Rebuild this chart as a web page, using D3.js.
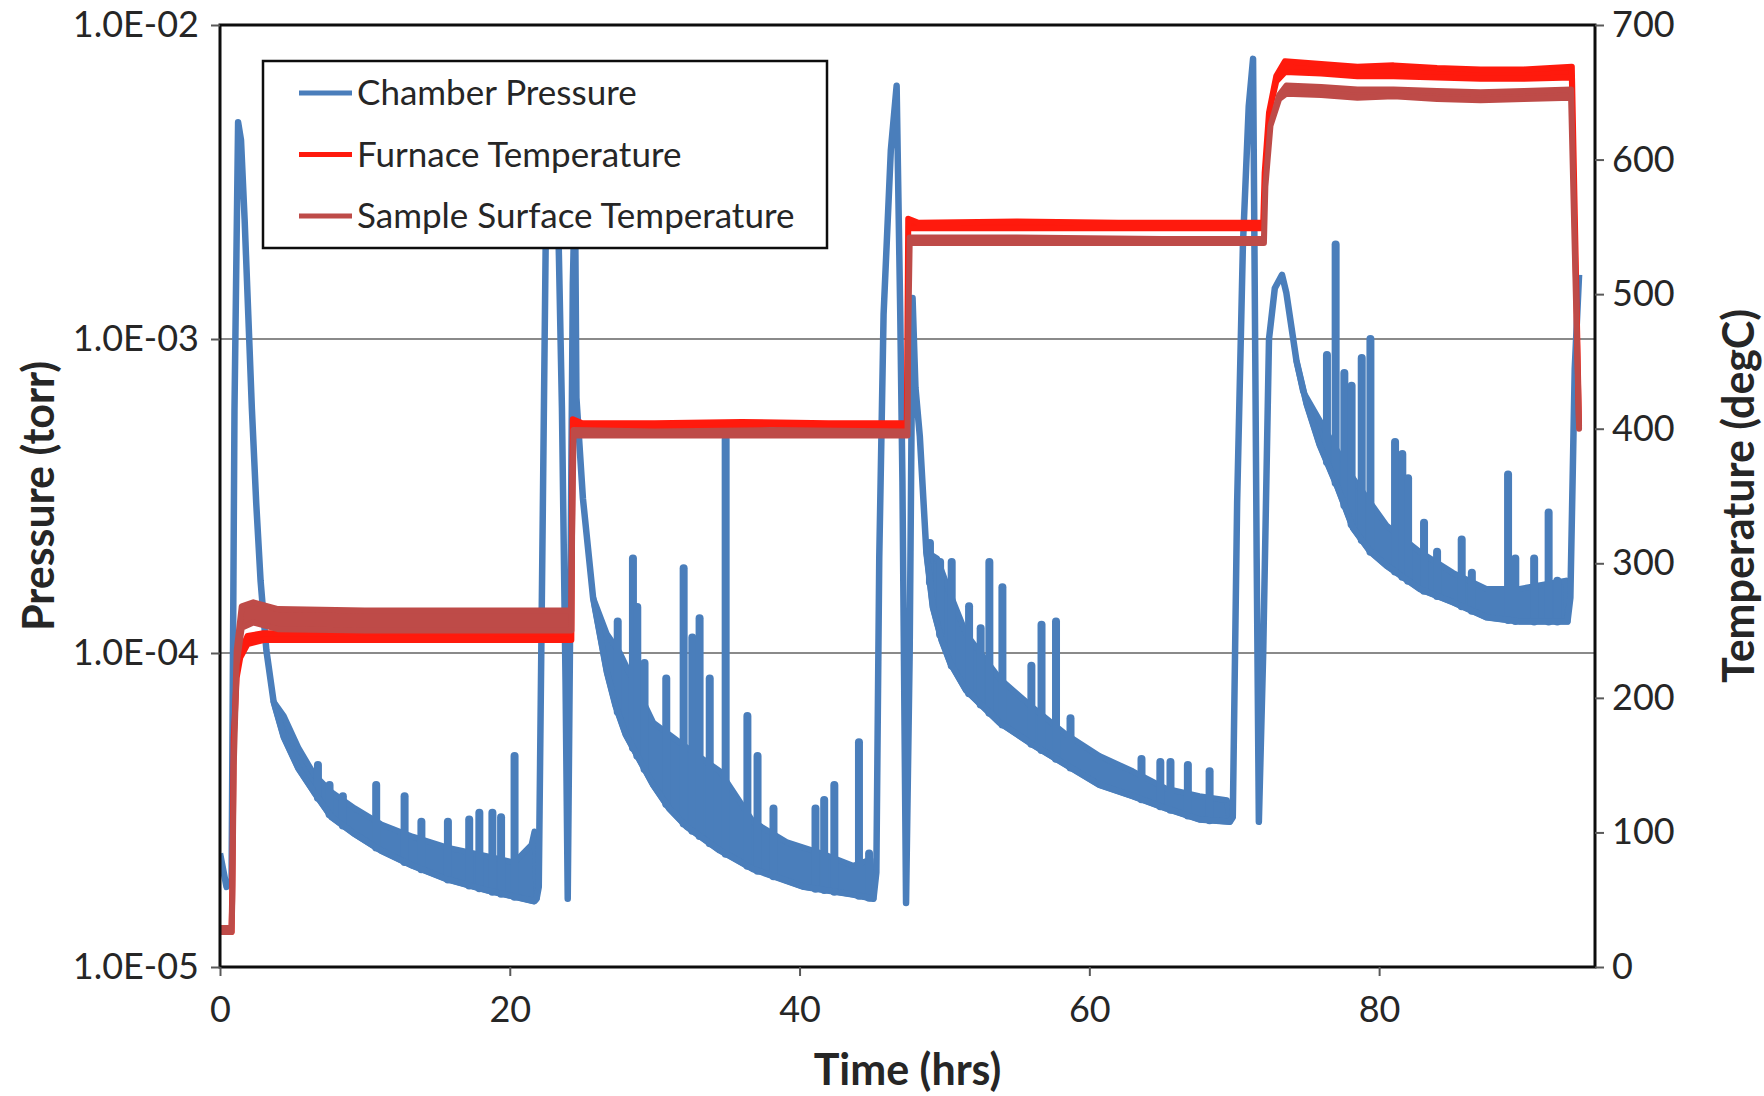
<!DOCTYPE html>
<html>
<head>
    <meta charset="utf-8">
    <title>Chamber Pressure and Temperature</title>
    <script src="https://d3js.org/d3.v7.min.js"></script>
    <style>
        body { margin: 0; background: #fff; }
        svg text { font-family: Lato, "Open Sans", sans-serif; fill: #262626; }
        .axis path { display: none; }
        .axis line { stroke: #595959; stroke-width: 2; }
    </style>
</head>
<body>
    <div id="chart"></div>

    <script>
        // chamber pressure, lower edge of the trace plus the big pump-down excursions [hrs, torr]
        var pressure = [
            [0.0, 2.3e-5], [0.45, 1.8e-5], [0.8, 1.9e-5], [1.0, 6e-4], [1.25, 4.9e-3], [1.45, 4.3e-3], [1.7, 2.4e-3],
            [1.95, 1.2e-3], [2.2, 6e-4], [2.5, 3e-4], [2.8, 1.7e-4], [3.2, 1.02e-4], [3.7, 7.0e-5], [4.4, 5.4e-5],
            [5.4, 4.3e-5], [6.5, 3.6e-5], [7.7, 3.0e-5], [9.3, 2.65e-5], [11.1, 2.35e-5], [13.3, 2.1e-5], [15.7, 1.9e-5],
            [18.5, 1.75e-5], [21.7, 1.62e-5], [21.85, 1.65e-5],
            [22.0, 1.8e-5], [22.5, 2.5e-3], [22.9, 4.0e-3], [23.3, 3.0e-3], [23.6, 6e-4], [23.85, 8e-5], [24.0, 1.65e-5],
            [24.15, 1e-4], [24.35, 1.5e-3], [24.5, 3.0e-3], [24.6, 6.5e-4], [25.05, 3.1e-4], [25.75, 1.5e-4], [26.7, 8.7e-5],
            [27.3, 6.8e-5], [28.0, 5.5e-5], [29.9, 3.8e-5], [31.0, 3.2e-5], [32.2, 2.8e-5], [34.5, 2.35e-5], [36.8, 2.05e-5],
            [40.3, 1.8e-5], [43.7, 1.7e-5],
            [45.1, 1.65e-5], [45.3, 2.0e-5], [45.5, 2.0e-4], [45.8, 1.2e-3], [46.3, 4.0e-3], [46.7, 6.4e-3], [46.95, 1.2e-3],
            [47.1, 3.5e-4], [47.35, 1.6e-5], [47.6, 1.0e-4], [47.8, 1.35e-3], [48.0, 7e-4], [48.3, 4.9e-4], [48.75, 2.1e-4],
            [49.2, 1.4e-4], [49.8, 1.1e-4], [50.4, 9.3e-5], [51.5, 7.6e-5], [53.8, 6.0e-5], [56.1, 5.1e-5], [58.4, 4.4e-5],
            [60.7, 3.8e-5], [63.0, 3.5e-5], [65.3, 3.2e-5], [67.6, 2.95e-5], [69.7, 2.9e-5],
            [69.9, 3.0e-5], [70.2, 3e-4], [70.6, 2e-3], [71.0, 5.5e-3], [71.3, 7.8e-3], [71.45, 9e-4], [71.55, 2e-4],
            [71.7, 2.9e-5], [72.0, 1e-4], [72.4, 1e-3], [72.8, 1.45e-3], [73.3, 1.6e-3], [73.6, 1.4e-3], [74.3, 8.5e-4],
            [75.0, 6.2e-4], [75.9, 4.6e-4], [77.1, 3.4e-4], [78.2, 2.5e-4], [79.4, 2.1e-4], [80.5, 1.9e-4], [82.8, 1.6e-4],
            [85.1, 1.45e-4], [87.4, 1.3e-4], [89.7, 1.26e-4], [93.0, 1.26e-4], [93.2, 1.5e-4], [93.5, 8e-4], [93.8, 1.6e-3]
        ];

        // upper edge of the noisy band in each hold [hrs, torr]
        var noiseTop1 = [[3.7, 7.0e-5], [4.4, 6.3e-5], [5.4, 5.0e-5], [6.5, 4.1e-5], [7.7, 3.6e-5], [9.3, 3.2e-5],
            [11.1, 2.85e-5], [13.3, 2.6e-5], [15.7, 2.4e-5], [18.5, 2.25e-5], [20.3, 2.15e-5], [21.5, 2.45e-5],
            [21.7, 2.7e-5], [21.85, 1.65e-5]];
        var noiseTop2 = [[25.75, 1.5e-4], [26.7, 1.15e-4], [27.6, 1.0e-4], [29.9, 6.0e-5], [32.2, 5.0e-5], [34.5, 4.2e-5],
            [36.8, 2.9e-5], [39.1, 2.5e-5], [41.5, 2.3e-5], [43.7, 2.1e-5], [44.9, 2.2e-5], [45.1, 1.65e-5]];
        var noiseTop3 = [[48.75, 2.1e-4], [49.5, 2.0e-4], [50.4, 1.54e-4], [51.5, 1.15e-4], [53.8, 8.3e-5], [56.1, 6.7e-5],
            [58.4, 5.5e-5], [60.7, 4.7e-5], [63.0, 4.2e-5], [65.3, 3.7e-5], [67.6, 3.5e-5], [69.5, 3.4e-5], [69.7, 2.9e-5]];
        var noiseTop4 = [[74.3, 8.5e-4], [74.75, 6.8e-4], [75.9, 5.5e-4], [78.2, 3.6e-4], [80.5, 2.55e-4], [82.8, 2.1e-4],
            [85.1, 1.8e-4], [87.4, 1.6e-4], [89.7, 1.6e-4], [92.0, 1.67e-4], [92.9, 1.7e-4], [93.0, 1.26e-4]];

        // pressure bursts sticking out of the band [hrs, peak torr]
        var pressureSpikes = [
            [6.76, 4.4e-5], [7.56, 3.8e-5], [8.48, 3.5e-5], [10.78, 3.8e-5], [12.74, 3.5e-5], [13.9, 2.9e-5], [15.73, 2.9e-5],
            [17.2, 2.95e-5], [17.9, 3.1e-5], [18.8, 3.1e-5], [19.4, 3.0e-5], [20.33, 4.7e-5],
            [27.45, 1.26e-4], [28.5, 2.0e-4], [28.8, 1.4e-4], [29.3, 9.3e-5], [30.8, 8.3e-5], [32.0, 1.86e-4], [32.6, 1.12e-4],
            [33.1, 1.29e-4], [33.8, 8.3e-5], [34.9, 4.8e-4], [36.4, 6.3e-5], [37.1, 4.7e-5], [38.2, 3.2e-5], [41.1, 3.2e-5],
            [41.7, 3.4e-5], [42.4, 3.8e-5], [44.1, 5.2e-5], [44.8, 2.3e-5],
            [49.0, 2.24e-4], [49.7, 1.95e-4], [50.5, 1.95e-4], [51.7, 1.41e-4], [52.5, 1.2e-4], [53.1, 1.95e-4], [54.0, 1.62e-4],
            [56.0, 9.1e-5], [56.7, 1.23e-4], [57.7, 1.26e-4], [58.7, 6.2e-5], [63.6, 4.6e-5], [64.9, 4.5e-5], [65.6, 4.5e-5],
            [66.8, 4.4e-5], [68.3, 4.2e-5],
            [76.4, 8.9e-4], [77.0, 2.0e-3], [77.6, 7.8e-4], [78.1, 7.1e-4], [78.8, 8.7e-4], [79.4, 1.0e-3], [81.1, 4.7e-4],
            [81.6, 4.3e-4], [82.0, 3.6e-4], [83.1, 2.6e-4], [84.0, 2.1e-4], [85.7, 2.3e-4], [86.4, 1.8e-4], [88.9, 3.7e-4],
            [89.4, 2.0e-4], [90.7, 2.0e-4], [91.7, 2.8e-4], [92.3, 1.7e-4]
        ];

        // temperatures [hrs, low degC, high degC] (the traces are noisy bands)
        var furnaceTemp = [
            [0.0, 26, 29], [0.8, 26, 29], [0.85, 60, 60], [0.95, 170, 170], [1.15, 215, 215], [1.4, 230, 234], [1.9, 240, 246],
            [3, 243, 248], [8, 243, 248], [14, 243, 249], [20, 243, 248], [24.25, 243, 248],
            [24.3, 330, 330], [24.35, 400, 407], [25, 400, 404], [30, 400, 404], [36, 400, 405], [42, 400, 404], [47.4, 400, 404],
            [47.45, 480, 480], [47.5, 549, 556], [48.2, 549, 553], [55, 549, 554], [62, 549, 553], [68, 549, 553], [72.0, 549, 553],
            [72.1, 590, 590], [72.4, 635, 635], [72.9, 658, 662], [73.5, 665, 673], [76, 664, 671], [78.5, 662, 669], [81, 662, 670],
            [84, 661, 668], [87, 660, 667], [90, 660, 667], [93.3, 661, 669], [93.8, 402, 402]
        ];
        var sampleTemp = [
            [0.0, 26, 29], [0.8, 26, 29], [0.85, 50, 50], [0.95, 150, 150], [1.15, 225, 235], [1.5, 252, 268], [2.3, 256, 271],
            [4, 251, 266], [10, 250, 265], [16, 250, 265], [24.25, 250, 265],
            [24.3, 320, 320], [24.4, 395, 399], [30, 395, 398], [38, 395, 399], [47.45, 395, 398],
            [47.5, 470, 470], [47.6, 538, 542], [55, 538, 542], [65, 538, 541], [72.05, 538, 541],
            [72.15, 580, 580], [72.5, 625, 625], [73.1, 645, 648], [73.6, 649, 655], [76, 648, 654], [78.5, 646, 652], [81, 647, 652],
            [84, 645, 651], [87, 644, 650], [90, 645, 651], [93.25, 646, 652], [93.8, 400, 400]
        ];

        var timeTicks = [0, 20, 40, 60, 80];
        var pressureTicks = [1e-5, 1e-4, 1e-3, 1e-2];
        var pressureTickLabels = ["1.0E-05", "1.0E-04", "1.0E-03", "1.0E-02"];
        var tempTicks = [0, 100, 200, 300, 400, 500, 600, 700];
        var seriesNames = ["Chamber Pressure", "Furnace Temperature", "Sample Surface Temperature"];
        var seriesColors = ["#4a7ebb", "#ff1a0d", "#be4b48"];

        var width = 1764, height = 1096;
        var plot = {left: 220, right: 1595, top: 25, bottom: 967};

        var x = d3.scaleLinear().domain([0, 94.9]).range([plot.left, plot.right]);
        var yP = d3.scaleLog().domain([1e-5, 1e-2]).range([plot.bottom, plot.top]);
        var yT = d3.scaleLinear().domain([0, 700]).range([plot.bottom, plot.top]);

        var svg = d3.select("#chart").append("svg")
            .attr("width", width)
            .attr("height", height);

        svg.append("clipPath").attr("id", "plotclip")
            .append("rect")
            .attr("x", plot.left).attr("y", plot.top)
            .attr("width", plot.right - plot.left)
            .attr("height", plot.bottom - plot.top);

        // horizontal gridlines on the pressure decades
        svg.append("g").selectAll("line")
            .data(pressureTicks.slice(1, 3))
            .join("line")
            .attr("x1", plot.left).attr("x2", plot.right)
            .attr("y1", d => yP(d)).attr("y2", d => yP(d))
            .attr("stroke", "#8a8a8a")
            .attr("stroke-width", 2);

        var data = svg.append("g").attr("clip-path", "url(#plotclip)");

        // pressure: filled noise bands, spikes and the main trace
        var pLine = d3.line().x(d => x(d[0])).y(d => yP(d[1]));
        function bandPolygon(top) {
            var t0 = top[0][0], t1 = top[top.length - 1][0];
            var bottom = pressure.filter(d => d[0] >= t0 && d[0] <= t1).reverse();
            return top.concat(bottom);
        }
        data.selectAll(".band")
            .data([noiseTop1, noiseTop2, noiseTop3, noiseTop4])
            .join("path")
            .attr("class", "band")
            .attr("d", d => pLine(bandPolygon(d)) + "Z")
            .attr("fill", seriesColors[0])
            .attr("stroke", seriesColors[0])
            .attr("stroke-width", 6)
            .attr("stroke-linejoin", "round");

        // spikes start from the lower edge of the trace
        var lowerLog = d3.scaleLinear()
            .domain(pressure.map(d => d[0]))
            .range(pressure.map(d => Math.log10(d[1])));
        data.selectAll(".spike")
            .data(pressureSpikes)
            .join("line")
            .attr("class", "spike")
            .attr("x1", d => x(d[0])).attr("x2", d => x(d[0]))
            .attr("y1", d => yP(Math.pow(10, lowerLog(d[0])))).attr("y2", d => yP(d[1]))
            .attr("stroke", seriesColors[0])
            .attr("stroke-width", 8)
            .attr("stroke-linecap", "round");

        data.append("path")
            .datum(pressure)
            .attr("d", pLine)
            .attr("fill", "none")
            .attr("stroke", seriesColors[0])
            .attr("stroke-width", 6.5)
            .attr("stroke-linejoin", "round");

        // temperatures on the right axis
        var tArea = d3.area()
            .x(d => x(d[0]))
            .y0(d => yT(d[1]))
            .y1(d => yT(d[2]));
        [furnaceTemp, sampleTemp].forEach(function(series, i) {
            data.append("path")
                .datum(series)
                .attr("d", tArea)
                .attr("fill", seriesColors[i + 1])
                .attr("stroke", seriesColors[i + 1])
                .attr("stroke-width", 6)
                .attr("stroke-linejoin", "round");
        });

        // plot frame
        svg.append("rect")
            .attr("x", plot.left).attr("y", plot.top)
            .attr("width", plot.right - plot.left)
            .attr("height", plot.bottom - plot.top)
            .attr("fill", "none")
            .attr("stroke", "#0d0d0d")
            .attr("stroke-width", 3);

        // axes
        svg.append("g").attr("class", "axis")
            .attr("transform", "translate(0," + plot.bottom + ")")
            .call(d3.axisBottom(x).tickValues(timeTicks).tickSize(9).tickPadding(20));
        svg.append("g").attr("class", "axis")
            .attr("transform", "translate(" + plot.left + ",0)")
            .call(d3.axisLeft(yP).tickValues(pressureTicks).tickSize(9).tickPadding(12)
                .tickFormat((d, i) => pressureTickLabels[i]));
        svg.append("g").attr("class", "axis")
            .attr("transform", "translate(" + plot.right + ",0)")
            .call(d3.axisRight(yT).tickValues(tempTicks).tickSize(9).tickPadding(8));
        svg.selectAll(".axis text")
            .style("font-size", "36px")
            .attr("fill", "#262626");

        // axis titles
        svg.append("text")
            .attr("x", (plot.left + plot.right) / 2)
            .attr("y", 1085)
            .attr("text-anchor", "middle")
            .style("font-size", "43px")
            .style("font-weight", "bold")
            .text("Time (hrs)");
        svg.append("text")
            .attr("transform", "translate(54," + (plot.top + plot.bottom) / 2 + ") rotate(-90)")
            .attr("text-anchor", "middle")
            .style("font-size", "43px")
            .style("font-weight", "bold")
            .text("Pressure (torr)");
        svg.append("text")
            .attr("transform", "translate(1754," + (plot.top + plot.bottom) / 2 + ") rotate(-90)")
            .attr("text-anchor", "middle")
            .style("font-size", "43px")
            .style("font-weight", "bold")
            .text("Temperature (degC)");

        // legend
        var legend = svg.append("g");
        legend.append("rect")
            .attr("x", 263).attr("y", 61)
            .attr("width", 564).attr("height", 187)
            .attr("fill", "#fff")
            .attr("stroke", "#0d0d0d")
            .attr("stroke-width", 2.5);
        var rows = legend.selectAll(".row")
            .data(seriesNames)
            .join("g")
            .attr("transform", (d, i) => "translate(0," + (93 + i * 61.5) + ")");
        rows.append("line")
            .attr("x1", 299).attr("x2", 352)
            .attr("stroke", (d, i) => seriesColors[i])
            .attr("stroke-width", 5);
        rows.append("text")
            .attr("x", 357)
            .attr("dy", "0.35em")
            .style("font-size", "35px")
            .text(d => d);
    </script>
</body>
</html>
